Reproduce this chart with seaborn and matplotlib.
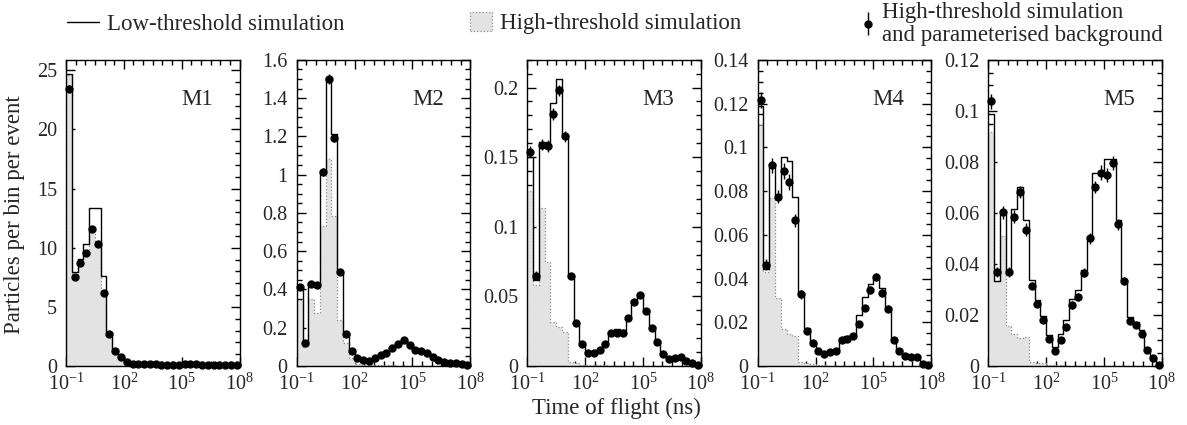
import numpy as np
import matplotlib
matplotlib.use("Agg")
import matplotlib.pyplot as plt
import seaborn as sns
from matplotlib.ticker import FixedLocator, MultipleLocator, FuncFormatter, LogFormatterMathtext, NullFormatter
from matplotlib.lines import Line2D
from matplotlib.patches import Patch

# ---------------- data ----------------
# 30 logarithmic bins of 0.3 decade from 10^-1 ns to 10^8 ns
bin_edges_log10 = np.linspace(-1, 8, 31)

panel_names = ["M1", "M2", "M3", "M4", "M5"]

m1_low = [24.7, 7.95, 9.05, 10.3, 13.4, 13.35, 7.65, 2.9, 1.4, 0.8, 0.35, 0.2, 0.18, 0.2, 0.2,
          0.18, 0.15, 0.12, 0.12, 0.15, 0.22, 0.28, 0.25, 0.15, 0.12, 0.1, 0.1, 0.08, 0.06, 0.05]
m1_high = [24.6, 7.6, 8.8, 9.6, 11.7, 10.4, 6.3, 2.75, 1.3, 0.75, 0.3, 0.15, 0.15, 0.18, 0.18,
           0.15, 0.12, 0.1, 0.1, 0.12, 0.18, 0.22, 0.2, 0.12, 0.1, 0.08, 0.08, 0.06, 0.05, 0.04]
m1_pts = [23.45, 7.56, 8.75, 9.55, 11.6, 10.33, 6.15, 2.7, 1.3, 0.76, 0.3, 0.15, 0.15, 0.2, 0.2,
          0.15, 0.12, 0.1, 0.1, 0.12, 0.18, 0.2, 0.18, 0.12, 0.1, 0.1, 0.08, 0.06, 0.05, 0.05]
m1_err = [0.3, 0.15, 0.15, 0.15, 0.2, 0.2, 0.15, 0.1, 0.05, 0.05, 0.03, 0.02, 0.02, 0.02, 0.02,
          0.02, 0.02, 0.02, 0.02, 0.02, 0.02, 0.02, 0.02, 0.02, 0.02, 0.02, 0.02, 0.02, 0.02, 0.02]

m2_low = [0.40, 0.11, 0.435, 0.426, 1.02, 1.51, 1.21, 0.49, 0.176, 0.083, 0.042, 0.032, 0.029, 0.041, 0.058,
          0.071, 0.093, 0.116, 0.137, 0.109, 0.084, 0.079, 0.071, 0.05, 0.032, 0.024, 0.018, 0.015, 0.01, 0.006]
m2_high = [0.345, 0.10, 0.348, 0.278, 0.73, 1.083, 0.783, 0.243, 0.12, 0.04, 0.012, 0.006, 0.005, 0.004, 0.004,
           0.003, 0.003, 0.002, 0.002, 0.001, 0.001, 0.001, 0.0, 0.0, 0.0, 0.0, 0.0, 0.0, 0.0, 0.0]
m2_pts = [0.414, 0.122, 0.43, 0.423, 1.014, 1.50, 1.193, 0.489, 0.169, 0.078, 0.04, 0.031, 0.028, 0.04, 0.057,
          0.07, 0.092, 0.115, 0.136, 0.108, 0.083, 0.078, 0.07, 0.049, 0.031, 0.023, 0.017, 0.014, 0.009, 0.005]
m2_err = [0.015, 0.01, 0.012, 0.012, 0.02, 0.025, 0.02, 0.012, 0.006, 0.004, 0.003, 0.003, 0.003, 0.003, 0.003,
          0.003, 0.004, 0.004, 0.004, 0.004, 0.003, 0.003, 0.003, 0.003, 0.002, 0.002, 0.002, 0.002, 0.001, 0.001]

m3_low = [0.150, 0.062, 0.161, 0.161, 0.189, 0.206, 0.166, 0.065, 0.031, 0.0167, 0.0103, 0.0103, 0.012, 0.0162, 0.0246,
          0.0263, 0.0258, 0.0354, 0.0473, 0.052, 0.0413, 0.0287, 0.0186, 0.0096, 0.0067, 0.0067, 0.0072, 0.0043, 0.0024, 0.0012]
m3_high = [0.1254, 0.058, 0.1135, 0.0748, 0.0318, 0.0282, 0.0246, 0.003, 0.002, 0.001, 0.0008, 0.0005, 0.0005, 0.0004, 0.0003,
           0.0002, 0.0001, 0.0, 0.0, 0.0, 0.0, 0.0, 0.0, 0.0, 0.0, 0.0, 0.0, 0.0, 0.0, 0.0]
m3_pts = [0.154, 0.065, 0.159, 0.158, 0.181, 0.198, 0.165, 0.0645, 0.0306, 0.0155, 0.0096, 0.0096, 0.0115, 0.0158, 0.0234,
          0.0239, 0.0234, 0.0342, 0.046, 0.051, 0.0397, 0.0275, 0.0174, 0.0084, 0.005, 0.0055, 0.0062, 0.0036, 0.0024, 0.0007]
m3_err = [0.004, 0.003, 0.004, 0.004, 0.004, 0.004, 0.004, 0.002, 0.0015, 0.001, 0.001, 0.001, 0.001, 0.001, 0.0012,
          0.0012, 0.0012, 0.0015, 0.0015, 0.0015, 0.0015, 0.0012, 0.001, 0.0008, 0.0006, 0.0006, 0.0006, 0.0005, 0.0004, 0.0003]

m4_low = [0.119, 0.0444, 0.0923, 0.078, 0.0956, 0.0938, 0.0773, 0.0334, 0.0175, 0.011, 0.0075, 0.0058, 0.0065, 0.0075, 0.013,
          0.0138, 0.0145, 0.0234, 0.0314, 0.0375, 0.0405, 0.0356, 0.0272, 0.013, 0.0077, 0.0055, 0.0045, 0.0045, 0.001, 0.0008]
m4_high = [0.110, 0.043, 0.077, 0.031, 0.017, 0.0145, 0.0138, 0.002, 0.0015, 0.0008, 0.0005, 0.0003, 0.0002, 0.0001, 0.0,
           0.0, 0.0, 0.0, 0.0, 0.0, 0.0, 0.0, 0.0, 0.0, 0.0, 0.0, 0.0, 0.0, 0.0, 0.0]
m4_pts = [0.1216, 0.0464, 0.0918, 0.0774, 0.0892, 0.0841, 0.0667, 0.0327, 0.0158, 0.0104, 0.0069, 0.0054, 0.0063, 0.0069, 0.0119,
          0.0122, 0.0135, 0.0193, 0.0265, 0.0346, 0.0407, 0.0334, 0.0262, 0.0119, 0.0069, 0.0047, 0.0043, 0.0043, 0.0008, 0.0005]
m4_err = [0.0035, 0.0025, 0.0035, 0.003, 0.0035, 0.0035, 0.003, 0.002, 0.0012, 0.001, 0.0008, 0.0008, 0.0008, 0.0008, 0.001,
          0.001, 0.001, 0.0012, 0.0015, 0.0018, 0.002, 0.0018, 0.0015, 0.001, 0.0008, 0.0007, 0.0006, 0.0006, 0.0003, 0.0003]

m5_low = [0.0988, 0.0332, 0.0594, 0.036, 0.0614, 0.070, 0.0572, 0.0338, 0.026, 0.0197, 0.0122, 0.0076, 0.0125, 0.0181, 0.0262,
          0.0296, 0.0375, 0.0502, 0.0755, 0.0765, 0.081, 0.081, 0.0574, 0.0338, 0.0191, 0.0174, 0.0142, 0.007, 0.003, 0.0008]
m5_high = [0.0918, 0.0332, 0.0511, 0.0157, 0.0125, 0.011, 0.0115, 0.0017, 0.0012, 0.001, 0.0005, 0.0003, 0.0002, 0.0001, 0.0,
           0.0, 0.0, 0.0, 0.0, 0.0, 0.0, 0.0, 0.0, 0.0, 0.0, 0.0, 0.0, 0.0, 0.0, 0.0]
m5_pts = [0.1037, 0.0367, 0.0603, 0.0367, 0.0585, 0.0682, 0.0535, 0.0315, 0.0244, 0.0181, 0.0105, 0.006, 0.01, 0.0151, 0.024,
          0.027, 0.0365, 0.05, 0.0702, 0.0758, 0.0748, 0.0795, 0.0555, 0.0334, 0.0178, 0.0161, 0.0125, 0.0063, 0.0033, 0.0004]
m5_err = [0.003, 0.002, 0.0025, 0.002, 0.0025, 0.0025, 0.0025, 0.0015, 0.0013, 0.0012, 0.001, 0.0008, 0.001, 0.0012, 0.0015,
          0.0015, 0.0018, 0.002, 0.0025, 0.0028, 0.0028, 0.0028, 0.0022, 0.0015, 0.0012, 0.001, 0.001, 0.0008, 0.0005, 0.0003]

low_sets = [m1_low, m2_low, m3_low, m4_low, m5_low]
high_sets = [m1_high, m2_high, m3_high, m4_high, m5_high]
pts_sets = [m1_pts, m2_pts, m3_pts, m4_pts, m5_pts]
err_sets = [m1_err, m2_err, m3_err, m4_err, m5_err]

y_max = [25.9, 1.6005, 0.22, 0.14005, 0.12005]
y_major = [5, 0.2, 0.05, 0.02, 0.02]
y_minor = [1, 0.05, 0.01, 0.005, 0.005]

x_major_exp = [-1, 2, 5, 8]

# ---------------- style ----------------
sns.set_theme(style="ticks")
plt.rcParams["font.family"] = ["Liberation Serif", "DejaVu Serif"]
plt.rcParams["mathtext.fontset"] = "custom"
plt.rcParams["mathtext.rm"] = "Liberation Serif"
plt.rcParams["mathtext.it"] = "Liberation Serif:italic"
plt.rcParams["mathtext.bf"] = "Liberation Serif:bold"
plt.rcParams["axes.unicode_minus"] = False

LABEL_FS = 16.5
TICK_FS = 14.5
FILL = "#e3e3e3"
EDGE = "#8a8a8a"

fig = plt.figure(figsize=(11.87, 4.25), dpi=100)

lefts = [0.0556, 0.2500, 0.4442, 0.6383, 0.8326]
width = 0.1462
bottom = 0.1388
height = 0.7207

log_centers = (bin_edges_log10[:-1] + bin_edges_log10[1:]) / 2
centers = 10 ** log_centers
bins_list = [float(b) for b in bin_edges_log10]

err_handle = None
for i, name in enumerate(panel_names):
    ax = fig.add_axes([lefts[i], bottom, width, height])
    sns.histplot(x=centers, weights=np.asarray(high_sets[i]), bins=bins_list, log_scale=True,
                 element="step", fill=True, facecolor=FILL, edgecolor=EDGE, alpha=1,
                 linestyle=":", linewidth=0.9, ax=ax)
    sns.histplot(x=centers, weights=np.asarray(low_sets[i]), bins=bins_list, log_scale=True,
                 element="step", fill=False, color="black", linewidth=1.0, ax=ax)
    err_handle = ax.errorbar(centers, pts_sets[i], yerr=err_sets[i], fmt="o", color="black",
                             markersize=5, elinewidth=1.0, capsize=0, zorder=5, clip_on=False)

    ax.set_xscale("log")
    ax.set_xlim(10 ** -1, 10 ** 8)
    ax.set_ylim(0, y_max[i])
    ax.set_xlabel("")
    ax.set_ylabel("")

    ax.xaxis.set_major_locator(FixedLocator([10.0 ** e for e in x_major_exp]))
    ax.xaxis.set_major_formatter(LogFormatterMathtext())
    ax.xaxis.set_minor_locator(FixedLocator(10 ** np.arange(-1, 8.01, 0.5)))
    ax.xaxis.set_minor_formatter(NullFormatter())
    ax.yaxis.set_major_locator(MultipleLocator(y_major[i]))
    ax.yaxis.set_minor_locator(MultipleLocator(y_minor[i]))
    ax.yaxis.set_major_formatter(FuncFormatter(lambda v, p: f"{round(v, 4):g}"))

    ax.tick_params(which="both", direction="in", top=True, right=True, width=1.0, color="black")
    ax.tick_params(which="major", length=6.5)
    ax.tick_params(which="minor", length=3.3)
    ax.tick_params(axis="x", which="major", labelsize=TICK_FS, pad=5.5)
    ax.tick_params(axis="y", which="major", labelsize=TICK_FS, pad=6.5)
    for s in ax.spines.values():
        s.set_linewidth(1.0)
        s.set_color("black")
        s.set_visible(True)

    ax.text(0.755, 0.87, name, transform=ax.transAxes, ha="center", va="center", fontsize=LABEL_FS)

fig.text(0.0126, 0.494, "Particles per bin per event", rotation=90, ha="center", va="center",
         fontsize=LABEL_FS)
fig.text(0.5195, 0.038, "Time of flight (ns)", ha="center", va="center", fontsize=LABEL_FS)

# ---------------- legends ----------------
h_low = Line2D([], [], color="black", lw=1.0)
h_high = Patch(facecolor=FILL, edgecolor=EDGE, linestyle=":", linewidth=0.9)

common = dict(frameon=False, loc="center left", borderpad=0, borderaxespad=0, fontsize=LABEL_FS)
fig.legend([h_low], ["Low-threshold simulation"], bbox_to_anchor=(0.0564, 0.9435),
           handlelength=1.4, handletextpad=0.35, **common)
fig.legend([h_high], ["High-threshold simulation"], bbox_to_anchor=(0.396, 0.946),
           handlelength=0.96, handleheight=0.96, handletextpad=0.35, **common)
leg3 = fig.legend([err_handle], ["High-threshold simulation\nand parameterised background"],
                  bbox_to_anchor=(0.7258, 0.944), handlelength=0.58, handletextpad=0.33, **common)
for t in leg3.get_texts():
    t.set_linespacing(1.12)

fig.savefig("out.png", dpi=100)
